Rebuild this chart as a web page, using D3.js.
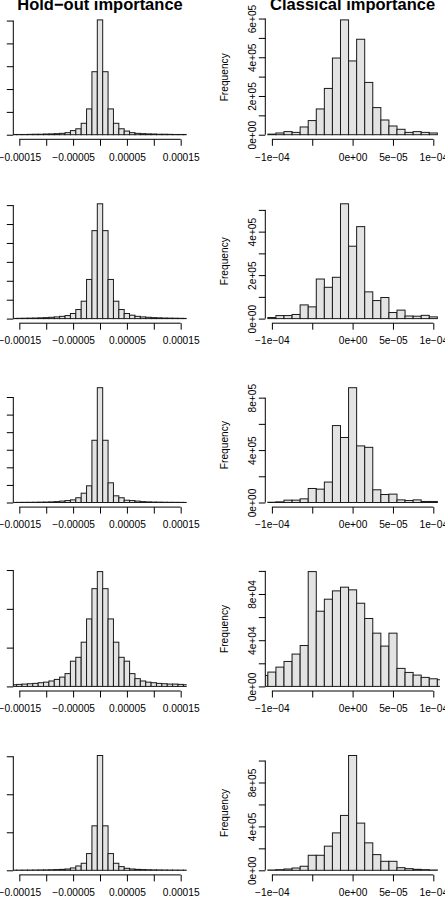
<!DOCTYPE html>
<html>
<head>
<meta charset="utf-8">
<script src="https://cdn.jsdelivr.net/npm/d3@7"></script>
<style>
    body { margin: 0; background: #ffffff; }
    svg { display: block; font-family: "Liberation Sans", Arial, sans-serif; color: #000000; }
</style>
</head>
<body>
<svg id="chart" width="445" height="907"></svg>
<script>

"use strict"

var ROW_STEP = 183.9;
var PLOT_TOP = 15.3;
var PLOT_BOTTOM = 139.3;
var TICK_LENGTH = 6.5;
var BIN_WIDTH = 1e-5;
var FONT_AXIS = 10.2;
var FONT_TITLE = 16.5;

// bin mids, every bin is 1e-5 wide; the outer ones run past the plot box and get clipped
var holdoutMids = [-0.00016, -0.00015, -0.00014, -0.00013, -0.00012, -0.00011, -0.0001, -0.00009, -0.00008,
                   -0.00007, -0.00006, -0.00005, -0.00004, -0.00003, -0.00002, -0.00001, 0,
                   0.00001, 0.00002, 0.00003, 0.00004, 0.00005, 0.00006, 0.00007, 0.00008,
                   0.00009, 0.0001, 0.00011, 0.00012, 0.00013, 0.00014, 0.00015, 0.00016];

var classicalMids = [-0.00011, -0.0001, -0.00009, -0.00008, -0.00007, -0.00006, -0.00005, -0.00004, -0.00003,
                     -0.00002, -0.00001, 0, 0.00001, 0.00002, 0.00003, 0.00004, 0.00005, 0.00006,
                     0.00007, 0.00008, 0.00009, 0.0001, 0.00011];

// hold-out counts (left column)
var holdout1 = [2000, 2000, 2000, 3000, 4000, 4000, 6000, 7000, 9000, 12000, 18000, 36000, 52000, 100000, 226000, 552000,
                1006000, 552000, 226000, 100000, 52000, 32000, 18000, 12000, 9000, 7000, 6000, 4000, 4000, 3000, 2000, 2000, 2000];
var holdout2 = [2000, 3000, 4000, 5000, 6000, 8000, 10000, 14000, 18000, 24000, 32000, 54000, 96000, 184000, 414000, 930000,
                1214000, 930000, 414000, 184000, 96000, 54000, 36000, 24000, 18000, 14000, 10000, 8000, 6000, 5000, 4000, 3000, 2000];
var holdout3 = [1000, 1600, 2000, 2400, 3000, 4000, 5000, 7000, 10000, 16000, 22000, 30000, 54000, 106000, 190000, 708000,
                1306000, 708000, 224000, 76000, 54000, 26000, 22000, 16000, 10000, 7000, 5000, 4000, 3000, 2400, 2000, 1600, 1000];
var holdout4 = [21500, 26000, 30000, 34500, 39000, 47500, 55000, 70000, 90000, 120000, 165000, 325000, 375000, 570000, 870000, 1260000,
                1480000, 1260000, 870000, 570000, 375000, 325000, 165000, 100000, 70000, 55000, 47500, 39000, 34500, 30000, 30000, 26000, 21500];
var holdout5 = [2000, 2500, 3000, 3500, 4000, 5000, 6000, 7500, 10000, 12500, 17500, 31000, 57000, 92500, 220000, 585000,
                1510000, 585000, 220000, 92500, 48500, 26500, 17500, 12500, 10000, 7500, 6000, 5000, 4000, 3500, 3000, 2500, 2000];

// classical counts (right column)
var classical1 = [0, 3000, 9000, 16000, 12000, 40000, 73000, 133000, 239000, 396000, 593000,
                  381000, 493000, 270000, 140000, 76000, 45000, 28000, 12000, 16000, 12000, 9000, 0];
var classical2 = [0, 5000, 14000, 14000, 19000, 63000, 54000, 182000, 144000, 190000, 528000,
                  333000, 423000, 123000, 83000, 97000, 28000, 39000, 12000, 11000, 15000, 8000, 0];
var classical3 = [0, 2000, 5000, 18000, 18000, 28000, 107000, 102000, 156000, 587000, 496000,
                  876000, 432000, 421000, 97000, 61000, 64000, 20000, 15000, 20000, 8000, 8000, 0];
var classical4 = [9500, 12400, 16700, 21600, 28000, 35400, 99400, 65100, 75500, 82700, 85900,
                  83600, 72000, 58800, 46100, 34900, 46100, 15600, 12100, 9800, 7800, 6600, 5800];
var classical5 = [0, 3000, 6000, 12000, 21000, 37000, 137000, 137000, 220000, 341000, 500000,
                  1046000, 430000, 250000, 143000, 82000, 82000, 24000, 15000, 9000, 6000, 3000, 0];

// ticks
var holdoutXTicks = [-0.00015, -0.0001, -0.00005, 0, 0.00005, 0.0001, 0.00015];
var holdoutXLabels = ["\u22120.00015", "", "\u22120.00005", "", "0.00005", "", "0.00015"];
var classicalXTicks = [-0.0001, -0.00005, 0, 0.00005, 0.0001];
var classicalXLabels = ["\u22121e\u221204", "", "0e+00", "5e\u221205", "1e\u221204"];

var holdoutYTicks = [[0, 2e5, 4e5, 6e5, 8e5, 1e6],
                     [0, 2e5, 4e5, 6e5, 8e5, 1e6, 1.2e6],
                     [0, 2e5, 4e5, 6e5, 8e5, 1e6, 1.2e6],
                     [0, 5e5, 1e6, 1.5e6],
                     [0, 5e5, 1e6, 1.5e6]];

var classicalYTicks = [[0, 1e5, 2e5, 3e5, 4e5, 5e5, 6e5],
                       [0, 1e5, 2e5, 3e5, 4e5, 5e5],
                       [0, 2e5, 4e5, 6e5, 8e5],
                       [0, 2e4, 4e4, 6e4, 8e4, 1e5],
                       [0, 2e5, 4e5, 6e5, 8e5, 1e6]];
var classicalYLabels = [["0e+00", "", "2e+05", "", "4e+05", "", "6e+05"],
                        ["0e+00", "", "2e+05", "", "4e+05", ""],
                        ["0e+00", "", "4e+05", "", "8e+05"],
                        ["0e+00", "", "4e+04", "", "8e+04", ""],
                        ["0e+00", "", "4e+05", "", "8e+05", ""]];

var columns = [
    { title: "Hold\u2212out importance", left: 13.3, right: 186.7, xlim: 1.612e-4, mids: holdoutMids,
      rows: [holdout1, holdout2, holdout3, holdout4, holdout5],
      xTicks: holdoutXTicks, xLabels: holdoutXLabels, yTicks: holdoutYTicks, yLabels: null },
    { title: "Classical importance", left: 265.3, right: 439.9, xlim: 1.0817e-4, mids: classicalMids,
      rows: [classical1, classical2, classical3, classical4, classical5],
      xTicks: classicalXTicks, xLabels: classicalXLabels, yTicks: classicalYTicks, yLabels: classicalYLabels }
];

var svg = d3.select("#chart");

var chart = {

    inits: function() {

        columns.forEach(function(col_, c) {

            col_.rows.forEach(function(counts_, r) { chart.panel(col_, c, counts_, r); });

            svg.append("text")
            .attr("x", (col_.left + col_.right) / 2)
            .attr("y", 9.5)
            .attr("text-anchor", "middle")
            .attr("font-weight", "bold")
            .attr("font-size", FONT_TITLE)
            .text(col_.title);

        });

    },

    panel: function(col_, c_, counts_, r_) {

        var g = svg.append("g").attr("transform", "translate(0," + (r_ * ROW_STEP) + ")");
        var max = d3.max(counts_);

        var x = d3.scaleLinear().domain([-col_.xlim, col_.xlim]).range([col_.left, col_.right]);
        var y = d3.scaleLinear().domain([-0.04 * max, 1.04 * max]).range([PLOT_BOTTOM, PLOT_TOP]);

        var clipId = "clip_" + c_ + "_" + r_;
        g.append("clipPath").attr("id", clipId)
            .append("rect")
            .attr("x", col_.left)
            .attr("y", 0)
            .attr("width", col_.right - col_.left)
            .attr("height", PLOT_BOTTOM);

        var bins = counts_.map(function(d, i) { return { mid: col_.mids[i], count: d }; })
                          .filter(function(d) { return d.count > 0; });

        g.append("g")
            .attr("clip-path", "url(#" + clipId + ")")
            .selectAll("rect")
            .data(bins)
            .join("rect")
            .attr("x", function(d) { return x(d.mid - BIN_WIDTH / 2); })
            .attr("y", function(d) { return y(d.count); })
            .attr("width", function(d) { return x(d.mid + BIN_WIDTH / 2) - x(d.mid - BIN_WIDTH / 2); })
            .attr("height", function(d) { return y(0) - y(d.count); })
            .attr("fill", "#e3e3e3")
            .attr("stroke", "#1a1a1a")
            .attr("stroke-width", 1);

        // x axis, line runs first tick to last tick like R does
        var xAxis = d3.axisBottom(x)
            .tickValues(col_.xTicks)
            .tickFormat(function(d, i) { return col_.xLabels[i]; })
            .tickSize(TICK_LENGTH)
            .tickPadding(7.5);

        var ax = g.append("g").attr("transform", "translate(0," + PLOT_BOTTOM + ")").call(xAxis);
        ax.attr("font-family", null).attr("font-size", FONT_AXIS);
        ax.select(".domain").remove();
        ax.append("line")
            .attr("x1", x(col_.xTicks[0]))
            .attr("x2", x(col_.xTicks[col_.xTicks.length - 1]))
            .attr("stroke", "currentColor");

        // y axis
        var yTicks = col_.yTicks[r_];
        var yAxis = d3.axisLeft(y)
            .tickValues(yTicks)
            .tickFormat(function(d, i) { return col_.yLabels ? col_.yLabels[r_][i] : ""; })
            .tickSize(TICK_LENGTH);

        var ay = g.append("g").attr("transform", "translate(" + col_.left + ",0)").call(yAxis);
        ay.attr("font-family", null).attr("font-size", FONT_AXIS);
        ay.select(".domain").remove();
        ay.append("line")
            .attr("y1", y(yTicks[0]))
            .attr("y2", y(yTicks[yTicks.length - 1]))
            .attr("stroke", "currentColor");

        ay.selectAll(".tick text")
            .attr("x", 0)
            .attr("y", -9.8)
            .attr("dy", null)
            .attr("transform", "rotate(-90)")
            .attr("text-anchor", "middle");

        if(col_.yLabels) {

            g.append("text")
            .attr("transform", "translate(228," + ((PLOT_TOP + PLOT_BOTTOM) / 2) + ") rotate(-90)")
            .attr("text-anchor", "middle")
            .attr("font-size", FONT_AXIS)
            .text("Frequency");

        }

    }

};

chart.inits();

</script>
</body>
</html>
